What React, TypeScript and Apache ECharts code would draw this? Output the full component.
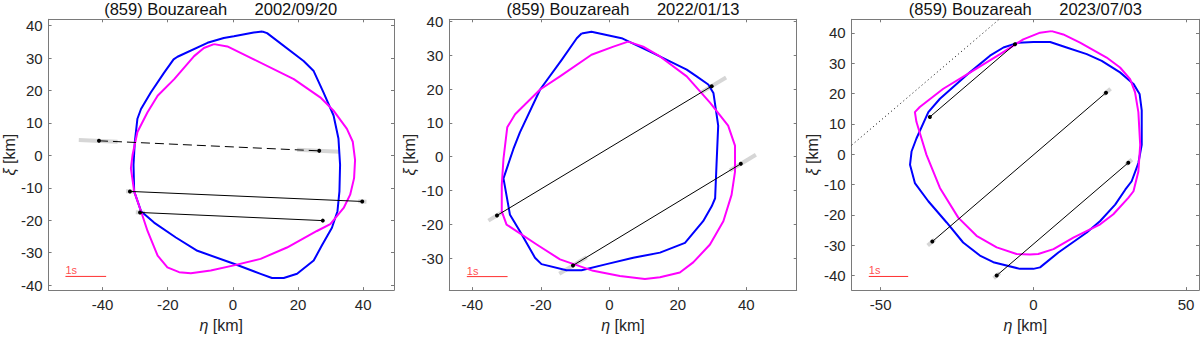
import React, { useEffect, useRef } from "react";
import * as echarts from "echarts";

type P = [number, number];

// ---------- data ----------
const titles = [
  "(859) Bouzareah      2002/09/20",
  "(859) Bouzareah      2022/01/13",
  "(859) Bouzareah      2023/07/03",
];

const xTicksA = [-40, -20, 0, 20, 40];
const xTicksC = [-50, 0, 50];
const yTicks = [-40, -30, -20, -10, 0, 10, 20, 30, 40];
const yTicksB = [-30, -20, -10, 0, 10, 20, 30, 40];

const xRange1: P = [-56.57, 49.45];
const yRange1: P = [-41.52, 41.95];
const xRange2: P = [-46.72, 54.72];
const yRange2: P = [-39.5, 40.7];
const xRange3: P = [-59.5, 54.26];
const yRange3: P = [-44.8, 44.5];

const blue1: P[] = [
  [9.0, 38.2], [10.5, 37.7], [21.7, 29.1], [24.8, 26.0], [27.8, 19.4], [30.9, 12.3],
  [32.4, 5.2], [32.9, -2.9], [32.7, -11.1], [32.1, -17.2], [30.4, -22.3], [27.3, -27.8],
  [24.8, -32.4], [19.7, -36.5], [15.6, -37.8], [12.0, -37.8], [8.5, -36.5], [0.3, -33.4],
  [-10.9, -29.4], [-17.5, -25.3], [-24.2, -20.7], [-28.2, -17.2], [-30.3, -11.1],
  [-30.5, -2.9], [-30.1, 4.2], [-29.3, 11.3], [-28.2, 14.3], [-25.2, 19.4], [-21.1, 25.5],
  [-18.2, 29.6], [-17.0, 30.4], [-7.8, 34.7], [-2.8, 36.2], [0.3, 36.7], [6.4, 37.9],
];
const magenta1: P[] = [
  [-5.8, 34.3], [-1.7, 33.6], [6.4, 29.6], [18.7, 23.5], [26.8, 17.9], [30.9, 13.8],
  [35.0, 8.2], [36.8, 4.2], [37.5, -1.4], [37.2, -7.0], [36.0, -12.1], [34.0, -16.2],
  [29.9, -21.2], [25.8, -23.3], [16.6, -28.4], [8.5, -31.9], [0.3, -33.9], [-6.8, -35.5],
  [-12.9, -36.3], [-16.5, -36.0], [-20.1, -34.5], [-23.1, -30.9], [-26.2, -23.3],
  [-28.2, -17.2], [-30.3, -11.1], [-31.3, -4.0], [-30.8, 0.1], [-29.3, 7.2], [-26.2, 13.3],
  [-23.1, 18.4], [-18.0, 23.5], [-11.9, 30.6], [-8.9, 33.1],
];
const blue2: P[] = [
  [-8.1, 36.5], [-5.2, 37.0], [3.6, 35.1], [12.8, 30.7], [22.6, 25.8], [25.5, 23.8],
  [28.9, 21.4], [30.4, 18.9], [31.8, 9.2], [31.3, -2.5], [30.9, -12.3], [29.9, -14.7],
  [27.4, -19.1], [22.1, -25.5], [14.8, -28.4], [7.0, -29.9], [-0.8, -31.8], [-8.1, -33.6],
  [-12.5, -33.6], [-19.8, -31.8], [-21.7, -29.9], [-26.1, -22.1], [-29.0, -17.2],
  [-30.9, -6.4], [-28.0, 2.3], [-26.1, 7.2], [-20.2, 19.9], [-13.9, 28.7], [-9.5, 35.1],
];
const magenta2: P[] = [
  [5.5, 34.1], [9.9, 32.6], [14.8, 29.7], [22.6, 23.8], [29.4, 16.0], [34.7, 9.2],
  [36.7, 3.3], [36.7, -4.5], [35.7, -11.3], [33.3, -19.1], [29.4, -26.0], [24.5, -31.3],
  [20.6, -34.3], [14.8, -35.7], [10.4, -36.2], [3.1, -35.3], [-4.7, -33.8], [-14.4, -30.4],
  [-21.2, -26.0], [-30.0, -20.1], [-31.4, -16.2], [-31.4, -8.4], [-30.9, -0.6],
  [-29.8, 8.7], [-27.5, 12.6], [-20.2, 19.9], [-14.4, 23.8], [-5.2, 30.2], [1.2, 32.6],
];
const blue3: P[] = [
  [-4.9, 36.8], [0.0, 37.0], [5.5, 37.0], [10.9, 35.2], [17.5, 33.0], [22.4, 30.8],
  [28.4, 27.0], [32.8, 23.2], [34.8, 19.9], [35.5, 14.5], [35.5, 3.1], [34.4, -2.9],
  [32.2, -8.9], [30.1, -11.7], [26.8, -16.6], [21.9, -22.0], [17.5, -25.8], [8.2, -32.4],
  [2.2, -37.3], [0.0, -37.8], [-4.4, -37.8], [-13.1, -35.6], [-17.5, -33.4], [-23.0, -29.1],
  [-28.4, -22.5], [-34.4, -15.5], [-38.8, -9.5], [-40.4, -3.5], [-39.9, 0.9], [-38.3, 5.2],
  [-34.4, 13.9], [-30.6, 18.3], [-20.8, 27.0], [-14.2, 32.5], [-9.8, 35.2],
];
const magenta3: P[] = [
  [6.0, 40.6], [9.8, 39.5], [15.3, 36.8], [24.0, 31.9], [28.4, 28.6], [31.7, 24.8],
  [33.3, 20.5], [34.4, 13.9], [35.0, 3.1], [34.4, -5.7], [32.8, -12.2], [31.1, -14.4],
  [26.2, -19.8], [21.9, -23.1], [13.1, -27.5], [6.6, -31.3], [1.6, -32.9], [-1.1, -33.1],
  [-5.5, -32.9], [-12.0, -30.7], [-18.6, -26.9], [-24.6, -20.9], [-30.6, -11.1],
  [-35.0, -0.2], [-38.3, 10.7], [-38.8, 13.9], [-37.2, 15.6], [-29.5, 21.6], [-19.7, 27.6],
  [-10.9, 33.0], [-3.3, 37.9], [2.2, 40.1],
];

// chords: [start, end]
const chords1: P[][] = [
  [[-41.1, 4.5], [26.5, 1.4]],
  [[-31.6, -11.1], [39.7, -14.2]],
  [[-28.5, -17.6], [27.6, -20.1]],
];
const chordDashed1 = [true, false, false];
const chords2: P[][] = [
  [[-32.8, -17.4], [29.9, 20.9]],
  [[-10.6, -32.2], [38.4, -2.1]],
];
const chords3: P[][] = [
  [[-33.9, 12.3], [-6.0, 36.3]],
  [[-33.1, -28.8], [23.8, 20.3]],
  [[-12.0, -40.0], [31.1, -2.8]],
];

// uncertainty (grey) segments
const grey1: P[][] = [
  [[-47.3, 4.78], [-35.4, 4.24]],
  [[19.7, 1.71], [32.7, 1.11]],
  [[-32.8, -11.05], [-30.4, -11.16]],
  [[38.5, -14.15], [41.0, -14.26]],
  [[-29.8, -17.54], [-27.0, -17.67]],
];
const grey2: P[][] = [
  [[-35.3, -18.93], [-31.4, -16.54]],
  [[27.0, 19.13], [34.1, 23.47]],
  [[-14.6, -34.66], [-6.6, -29.75]],
  [[35.2, -4.06], [42.8, 0.6]],
];
const grey3: P[][] = [
  [[-34.6, -30.1], [-32.3, -28.1]],
  [[23.0, 19.6], [25.3, 21.6]],
  [[-13.0, -40.86], [-11.0, -39.14]],
  [[30.3, -3.49], [32.3, -1.77]],
];

const scaleBar1: P[] = [[-51.4, -37.3], [-38.9, -37.3]];
const scaleBar2: P[] = [[-41.6, -35.5], [-29.7, -35.5]];
const scaleBar3: P[] = [[-53.9, -40.3], [-41.0, -40.3]];
const scaleLabel = "1s";

const dotted3: P[] = [[-59.5, 3.0], [-11.2, 44.5]];

// ---------- layout ----------
const FONT = "'Liberation Sans', Arial, Helvetica, sans-serif";
const TEXT = "#262626";
const AXIS = "#7a7a7a";

const grids = [
  { left: 47.3, top: 19.3, width: 346.7, height: 274, yNameGap: 28 },
  { left: 449.3, top: 19.3, width: 347.4, height: 274, yNameGap: 28 },
  { left: 851.7, top: 19.3, width: 347.3, height: 274, yNameGap: 29.5 },
];

const panels = [
  { xr: xRange1, yr: yRange1, xt: xTicksA, yt: yTicks, blue: blue1, mag: magenta1, chords: chords1, dashed: chordDashed1, grey: grey1, bar: scaleBar1, dotted: null as P[] | null },
  { xr: xRange2, yr: yRange2, xt: xTicksA, yt: yTicksB, blue: blue2, mag: magenta2, chords: chords2, dashed: [false, false], grey: grey2, bar: scaleBar2, dotted: null as P[] | null },
  { xr: xRange3, yr: yRange3, xt: xTicksC, yt: yTicks, blue: blue3, mag: magenta3, chords: chords3, dashed: [false, false, false], grey: grey3, bar: scaleBar3, dotted: dotted3 },
];

const close = (pts: P[]): P[] => [...pts, pts[0]];

function buildOption() {
  const xAxis: any[] = [];
  const yAxis: any[] = [];
  const series: any[] = [];
  const graphic: any[] = [];

  panels.forEach((p, i) => {
    const g = grids[i];
    const tick = (vals: number[]) => ({
      show: true, inside: true, length: 3, customValues: vals,
      lineStyle: { color: AXIS, width: 1 },
    });
    const line = { show: true, onZero: false, lineStyle: { color: AXIS, width: 1 } };
    xAxis.push({
      type: "value", gridIndex: i, position: "bottom", min: p.xr[0], max: p.xr[1],
      axisLine: line, axisTick: tick(p.xt), splitLine: { show: false },
      axisLabel: { customValues: p.xt, color: TEXT, fontSize: 15, fontFamily: FONT, margin: 7 },
      name: "{g|η} [km]", nameLocation: "middle", nameGap: 26,
      nameTextStyle: {
        color: TEXT, fontSize: 16, fontFamily: FONT,
        rich: { g: { fontStyle: "italic", fontSize: 16, fontFamily: FONT, color: TEXT } },
      },
    });
    xAxis.push({
      type: "value", gridIndex: i, position: "top", min: p.xr[0], max: p.xr[1],
      axisLine: line, axisTick: tick(p.xt), splitLine: { show: false },
      axisLabel: { show: false },
    });
    yAxis.push({
      type: "value", gridIndex: i, position: "left", min: p.yr[0], max: p.yr[1],
      axisLine: line, axisTick: tick(p.yt), splitLine: { show: false },
      axisLabel: { customValues: p.yt, color: TEXT, fontSize: 15, fontFamily: FONT, margin: 6 },
      name: "{g|ξ} [km]", nameLocation: "middle", nameGap: g.yNameGap, nameRotate: 90,
      nameTextStyle: {
        color: TEXT, fontSize: 16, fontFamily: FONT,
        rich: { g: { fontStyle: "italic", fontSize: 16, fontFamily: FONT, color: TEXT } },
      },
    });
    yAxis.push({
      type: "value", gridIndex: i, position: "right", min: p.yr[0], max: p.yr[1],
      axisLine: line, axisTick: tick(p.yt), splitLine: { show: false },
      axisLabel: { show: false },
    });

    const xi = 2 * i;
    const yi = 2 * i;
    const base = { xAxisIndex: xi, yAxisIndex: yi, animation: false, silent: true };

    p.grey.forEach((seg) => {
      series.push({
        ...base, type: "line", data: seg, symbol: "none", z: 1,
        lineStyle: { color: "#d6d6d6", width: 4, cap: "butt" },
      });
    });
    series.push({
      ...base, type: "line", data: close(p.blue), symbol: "none", z: 2,
      lineStyle: { color: "#0000ff", width: 2, join: "round" },
    });
    series.push({
      ...base, type: "line", data: close(p.mag), symbol: "none", z: 3,
      lineStyle: { color: "#ff00ff", width: 2, join: "round" },
    });
    p.chords.forEach((c, k) => {
      series.push({
        ...base, type: "line", data: c, symbol: "circle", symbolSize: 4, showSymbol: true, z: 4,
        itemStyle: { color: "#000" },
        lineStyle: { color: "#000", width: 1, type: p.dashed[k] ? [9, 5] : "solid" },
      });
    });
    if (p.dotted) {
      series.push({
        ...base, type: "line", data: p.dotted, symbol: "none", z: 4,
        lineStyle: { color: "#000", width: 1, type: [1, 3] },
      });
    }
    series.push({
      ...base, type: "line", symbol: "none", z: 5, data: p.bar,
      lineStyle: { color: "#ff3030", width: 1 },
    });
    series.push({
      ...base, type: "scatter", z: 5, symbol: "circle", symbolSize: 1,
      itemStyle: { color: "rgba(0,0,0,0)" },
      data: [p.bar[0]],
      label: {
        show: true, formatter: scaleLabel, position: "top", align: "left",
        distance: 0, color: "#ff2020", fontSize: 11, fontFamily: FONT,
      },
    });

    graphic.push({
      type: "text",
      x: g.left + g.width / 2,
      y: 0,
      style: {
        text: titles[i], fill: "#111", fontSize: 16.5, fontFamily: FONT,
        align: "center", verticalAlign: "top",
        textAlign: "center", textVerticalAlign: "top",
      },
    });
  });

  return {
    animation: false,
    backgroundColor: "#ffffff",
    grid: grids.map((g) => ({ left: g.left, top: g.top, width: g.width, height: g.height, containLabel: false })),
    xAxis,
    yAxis,
    series,
    graphic,
  };
}

export default function App() {
  const ref = useRef<HTMLDivElement>(null);
  useEffect(() => {
    if (!ref.current) return;
    const chart = echarts.init(ref.current, undefined, { renderer: "svg" });
    chart.setOption(buildOption() as any);
    return () => chart.dispose();
  }, []);
  return (
    <div
      ref={ref}
      style={{ position: "fixed", left: 0, top: 0, width: 1200, height: 338, background: "#fff" }}
    />
  );
}
